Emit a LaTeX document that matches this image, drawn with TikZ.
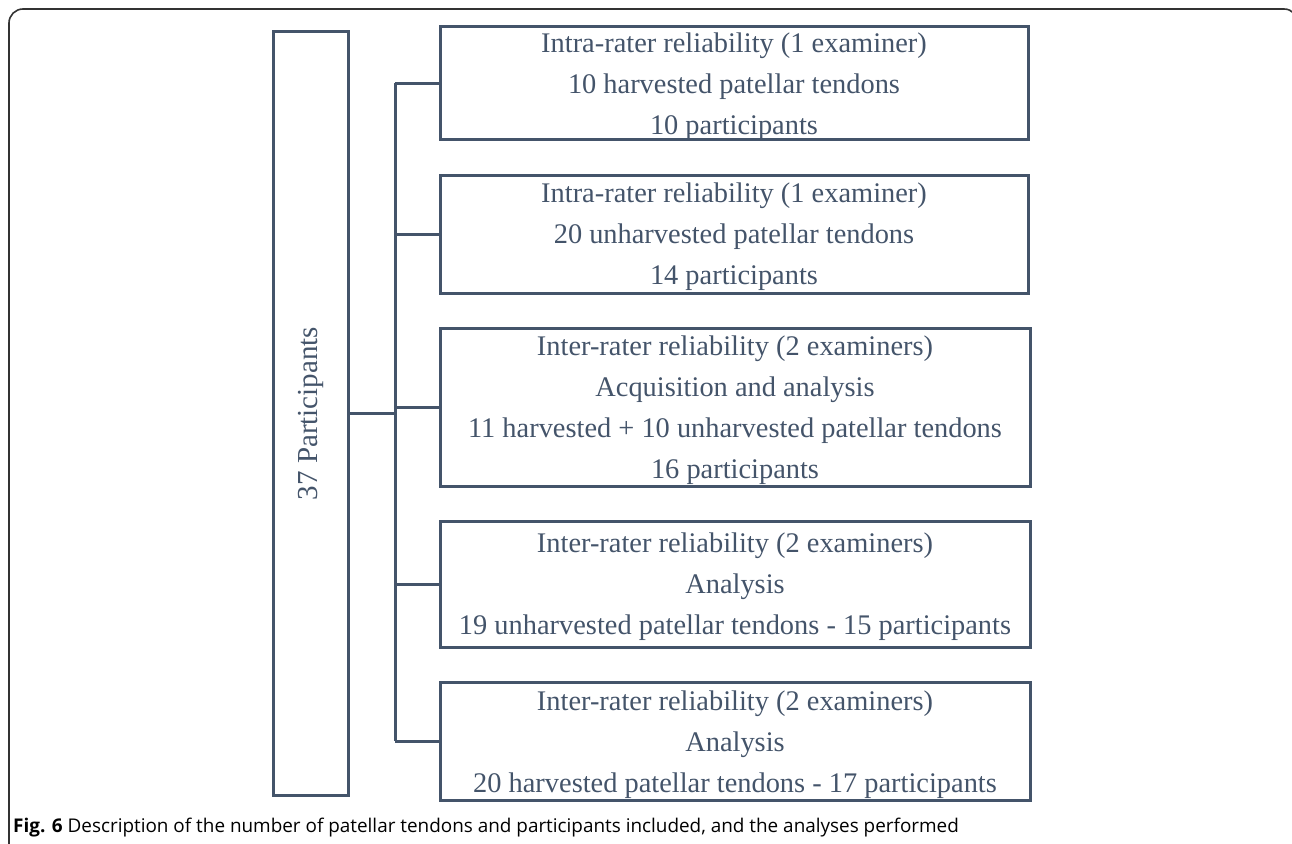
\documentclass[tikz,border=0pt]{standalone}
\usepackage{fontspec}
\setmainfont{Liberation Serif}
\newfontfamily\capfont{Open Sans}
\usetikzlibrary{positioning,calc}
\definecolor{slate}{HTML}{44546A}
\definecolor{framegray}{HTML}{333333}

\begin{document}
\begin{tikzpicture}[x=1pt,y=-1pt,
  studybox/.style={draw=slate,line width=3pt,inner sep=0pt,minimum width=590pt},
  boxtext/.style={text=slate,align=center,inner sep=0pt,font=\fontsize{28.4}{41}\selectfont},
  link/.style={draw=slate,line width=3pt}]
\useasboundingbox (0,0) rectangle (1292,843);
% outer frame
\draw [framegray,line width=1.6pt,rounded corners=14pt] (9,9) rectangle (1298,870);
% participants column
\node [studybox,minimum width=75pt,minimum height=763pt] (all) at (310.5,413.5) {};
\node [boxtext,rotate=90,font=\fontsize{29}{32}\selectfont] (alltext) at (all.center) {37 Participants};
% the five analyses
\node [studybox,minimum width=588pt,minimum height=112pt] (intraA) at (734,83) {};
\node [studybox,minimum width=588pt,minimum height=118pt] (intraB) at (734,234) {};
\node [studybox,minimum height=158pt] (interA) at (735,407) {};
\node [studybox,minimum height=126pt] (interB) at (735,584) {};
\node [studybox,minimum height=118pt] (interC) at (735,741) {};
\node [boxtext] (intraAtext) at ([yshift=-4pt]intraA.center)
  {Intra-rater reliability (1 examiner)\\10 harvested patellar tendons\\10 participants};
\node [boxtext] (intraBtext) at ([yshift=-3pt]intraB.center)
  {Intra-rater reliability (1 examiner)\\20 unharvested patellar tendons\\14 participants};
\node [boxtext] (interAtext) at ([yshift=-3.5pt]interA.center)
  {Inter-rater reliability (2 examiners)\\Acquisition and analysis\\11 harvested + 10 unharvested patellar tendons\\16 participants};
\node [boxtext] (interBtext) at ([yshift=-3pt]interB.center)
  {Inter-rater reliability (2 examiners)\\Analysis\\19 unharvested patellar tendons - 15 participants};
\node [boxtext] (interCtext) at ([yshift=-3.5pt]interC.center)
  {Inter-rater reliability (2 examiners)\\Analysis\\20 harvested patellar tendons - 17 participants};
% spine
\coordinate (spine) at (395,413);
\draw [link] (all.east |- spine) -- (spine);
\draw [link] (intraA.west -| spine) -- (interC.west -| spine);
\foreach \b in {intraA,intraB,interA,interB,interC}
  \draw [link] (\b.west -| spine) -- (\b.west);
% caption
\node [anchor=base west,inner sep=0pt,font=\capfont\fontsize{18.9}{22}\selectfont] (caption) at (13,832)
  {\textbf{Fig. 6} Description of the number of patellar tendons and participants included, and the analyses performed};
\end{tikzpicture}
\end{document}
